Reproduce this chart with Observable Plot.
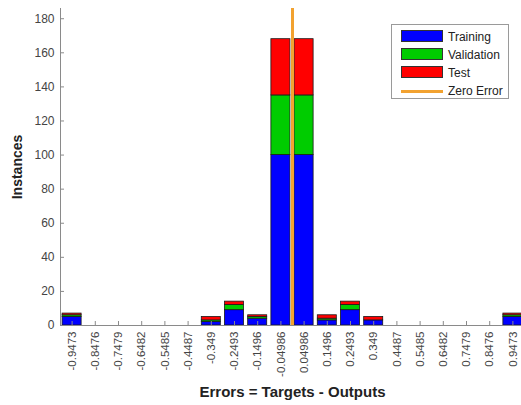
<!DOCTYPE html>
<html>
<head>
<meta charset="utf-8">
<script src="https://cdn.jsdelivr.net/npm/d3@7"></script>
<script src="https://cdn.jsdelivr.net/npm/@observablehq/plot@0.6"></script>
<style>
  html, body { margin: 0; padding: 0; background: #fff; }
  #wrap { position: relative; width: 521px; height: 405px; font-family: "Liberation Sans", Arial, sans-serif; }
  #legend { position: absolute; left: 391px; top: 24px; width: 118px; height: 75px; border: 1px solid #9a9a9a; background: #fff; box-sizing: border-box; }
  .item { position: absolute; left: 0; height: 14px; font-size: 12px; color: #222; }
  .sw { position: absolute; left: 9px; width: 42px; height: 12px; border: 1px solid #333; box-sizing: border-box; }
  .ln { position: absolute; left: 9px; width: 42px; height: 3px; top: 6px; }
  .lab { position: absolute; left: 56px; top: 0; line-height: 14px; white-space: nowrap; }
</style>
</head>
<body>
<div id="wrap"></div>
<script>
const binLabels = ["-0.9473","-0.8476","-0.7479","-0.6482","-0.5485","-0.4487","-0.349","-0.2493","-0.1496","-0.04986","0.04986","0.1496","0.2493","0.349","0.4487","0.5485","0.6482","0.7479","0.8476","0.9473"];
const training   = [5,0,0,0,0,0,2,9,4,100,100,3,9,3,0,0,0,0,0,5];
const validation = [1,0,0,0,0,0,1,3,1,35,35,1,3,0,0,0,0,0,0,1];
const test       = [1,0,0,0,0,0,2,2,1,33,33,2,2,2,0,0,0,0,0,1];
const seriesNames = ["Training","Validation","Test"];
const seriesColors = ["#0000ff","#00cc00","#ff0000"];
const zeroColor = "#f2a230";
const yTicks = [0,20,40,60,80,100,120,140,160,180];

const centers = binLabels.map(Number);
const binWidth = (centers[19] - centers[0]) / 19;
const rows = [];
centers.forEach((c, i) => {
  let base = 0;
  [training, validation, test].forEach((arr, k) => {
    const v = arr[i];
    if (v > 0) rows.push({x1: c - binWidth * 0.41, x2: c + binWidth * 0.41, y1: base, y2: base + v, series: seriesNames[k]});
    base += v;
  });
});

const chart = Plot.plot({
  width: 521,
  height: 405,
  marginLeft: 60,
  marginRight: -3,
  marginTop: 8,
  marginBottom: 80,
  style: {fontFamily: "'Liberation Sans', Arial, sans-serif", background: "#fff"},
  x: {domain: [centers[0] - binWidth / 2, centers[19] + binWidth / 2]},
  y: {domain: [0, 186]},
  color: {domain: seriesNames, range: seriesColors},
  marks: [
    Plot.rect(rows, {x1: "x1", x2: "x2", y1: "y1", y2: "y2", fill: "series", stroke: "#1a1a1a", strokeWidth: 0.8}),
    Plot.ruleX([0], {stroke: zeroColor, strokeWidth: 3}),
    Plot.frame({anchor: "left", stroke: "#8a8a8a"}),
    Plot.frame({anchor: "bottom", stroke: "#8a8a8a"}),
    Plot.axisY(yTicks, {tickSize: -4, tickPadding: 10, stroke: "#8a8a8a", fontSize: 12, color: "#444", label: "Instances", labelAnchor: "center", labelArrow: "none", labelOffset: 48}),
    Plot.axisX(centers, {tickSize: -4, tickPadding: 10, tickRotate: -90, stroke: "#8a8a8a", fontSize: 11.5, color: "#444", tickFormat: (d) => binLabels[centers.indexOf(d)], label: "Errors = Targets - Outputs", labelAnchor: "center", labelArrow: "none", labelOffset: 71})
  ]
});
document.getElementById("wrap").appendChild(chart);
chart.querySelectorAll("[aria-label='y-axis label'] text, [aria-label='x-axis label'] text").forEach(t => {
  t.setAttribute("font-weight", "bold");
  t.setAttribute("fill", "#222");
});
chart.querySelectorAll("[aria-label='y-axis label']").forEach(g => g.setAttribute("font-size", "14"));
chart.querySelectorAll("[aria-label='x-axis label']").forEach(g => g.setAttribute("font-size", "15"));

const legend = document.createElement("div");
legend.id = "legend";
seriesNames.forEach((name, i) => {
  const it = document.createElement("div");
  it.className = "item";
  it.style.top = (5 + i * 18) + "px";
  it.style.width = "100%";
  it.innerHTML = `<div class="sw" style="background:${seriesColors[i]}"></div><div class="lab">${name}</div>`;
  legend.appendChild(it);
});
const it = document.createElement("div");
it.className = "item";
it.style.top = (5 + 3 * 18) + "px";
it.style.width = "100%";
it.innerHTML = `<div class="ln" style="background:${zeroColor}"></div><div class="lab">Zero Error</div>`;
legend.appendChild(it);
document.getElementById("wrap").appendChild(legend);
</script>
</body>
</html>
